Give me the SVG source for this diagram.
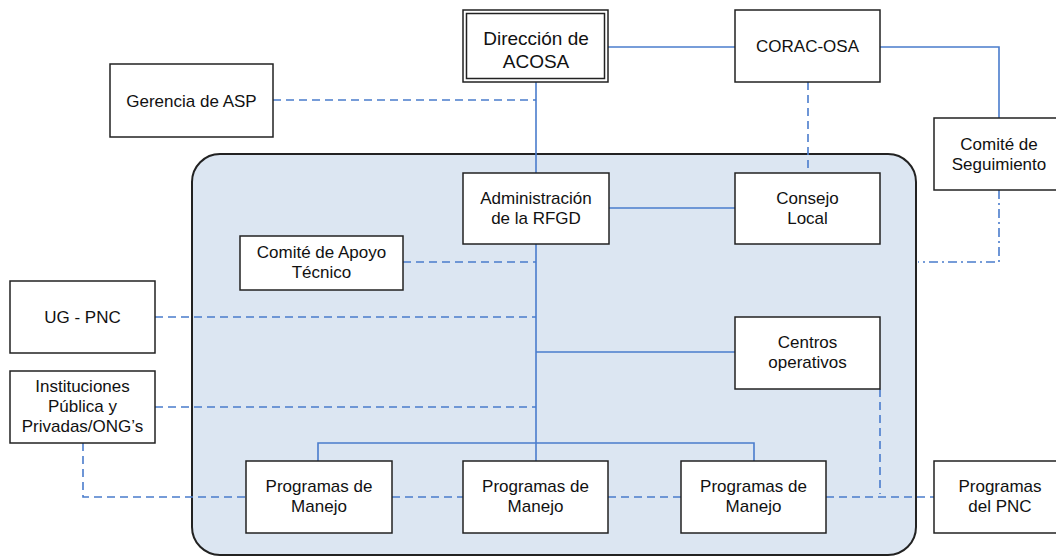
<svg xmlns="http://www.w3.org/2000/svg" width="1056" height="558" viewBox="0 0 1056 558">
<style>
.box{fill:#fff;stroke:#222;stroke-width:1.5}
.t{font-family:"Liberation Sans",Arial,sans-serif;font-size:17px;fill:#111;text-anchor:middle}
.tb{font-size:19px}
.s{fill:none;stroke:#4a7ccc;stroke-width:1.6}
.d{fill:none;stroke:#4a7ccc;stroke-width:1.6;stroke-dasharray:8 5}
.dd{fill:none;stroke:#4a7ccc;stroke-width:1.6;stroke-dasharray:9 4 2 4}
</style>
<rect width="1056" height="558" fill="#fff"/>
<g id="container">
<rect x="192" y="154" width="724" height="401" rx="28" ry="28" fill="#dce6f2" stroke="#222" stroke-width="2"/>
</g>
<g id="connectors">
<path class="s" d="M608,47H735"/>
<path class="s" d="M880,47H999V118"/>
<path class="s" d="M536,82V173"/>
<path class="s" d="M609,208H735"/>
<path class="s" d="M536,244V461"/>
<path class="s" d="M536,352H735"/>
<path class="s" d="M318,461V443H754V461"/>
<path class="d" d="M273,100H536"/>
<path class="d" d="M808,82V173"/>
<path class="d" d="M403,262H536"/>
<path class="d" d="M155,317H536"/>
<path class="d" d="M155,407H536"/>
<path class="d" d="M83,443V497H246"/>
<path class="d" d="M392,497H463"/>
<path class="d" d="M608,497H681"/>
<path class="d" d="M826,497H934"/>
<path class="d" d="M880,389V494"/>
<path class="dd" d="M999,190V262H918"/>
</g>
<g id="direccion">
<rect class="box" x="463" y="10" width="145" height="72"/>
<rect x="466.5" y="13.5" width="138" height="65" fill="none" stroke="#222" stroke-width="1.5"/>
<text class="t tb" x="536" y="45">Dirección de</text>
<text class="t tb" x="536" y="68">ACOSA</text>
</g>
<g id="corac">
<rect class="box" x="735" y="10" width="145" height="72"/>
<text class="t" x="807.5" y="52">CORAC-OSA</text>
</g>
<g id="gerencia">
<rect class="box" x="110" y="64" width="163" height="73"/>
<text class="t" x="191.5" y="106.5">Gerencia de ASP</text>
</g>
<g id="seguimiento">
<rect class="box" x="934" y="118" width="132" height="72"/>
<text class="t" x="999" y="150">Comité de</text>
<text class="t" x="999" y="170">Seguimiento</text>
</g>
<g id="administracion">
<rect class="box" x="463" y="173" width="146" height="71"/>
<text class="t" x="536" y="204">Administración</text>
<text class="t" x="536" y="224">de la RFGD</text>
</g>
<g id="consejo">
<rect class="box" x="735" y="173" width="145" height="71"/>
<text class="t" x="807.5" y="204">Consejo</text>
<text class="t" x="807.5" y="224">Local</text>
</g>
<g id="apoyo">
<rect class="box" x="240" y="236" width="163" height="54"/>
<text class="t" x="321.5" y="258">Comité de Apoyo</text>
<text class="t" x="321.5" y="278">Técnico</text>
</g>
<g id="ugpnc">
<rect class="box" x="10" y="281" width="145" height="72"/>
<text class="t" x="82.5" y="323">UG - PNC</text>
</g>
<g id="centros">
<rect class="box" x="735" y="317" width="145" height="72"/>
<text class="t" x="807.5" y="348">Centros</text>
<text class="t" x="807.5" y="368">operativos</text>
</g>
<g id="instituciones">
<rect class="box" x="10" y="371" width="145" height="72"/>
<text class="t" x="82.5" y="392">Instituciones</text>
<text class="t" x="82.5" y="412">Pública y</text>
<text class="t" x="82.5" y="431.5">Privadas/ONG’s</text>
</g>
<g id="programas1">
<rect class="box" x="246" y="461" width="146" height="72"/>
<text class="t" x="319" y="492">Programas de</text>
<text class="t" x="319" y="512">Manejo</text>
</g>
<g id="programas2">
<rect class="box" x="463" y="461" width="145" height="72"/>
<text class="t" x="535.5" y="492">Programas de</text>
<text class="t" x="535.5" y="512">Manejo</text>
</g>
<g id="programas3">
<rect class="box" x="681" y="461" width="145" height="72"/>
<text class="t" x="753.5" y="492">Programas de</text>
<text class="t" x="753.5" y="512">Manejo</text>
</g>
<g id="programaspnc">
<rect class="box" x="934" y="461" width="132" height="72"/>
<text class="t" x="1000" y="492">Programas</text>
<text class="t" x="1000" y="512">del PNC</text>
</g>
</svg>
